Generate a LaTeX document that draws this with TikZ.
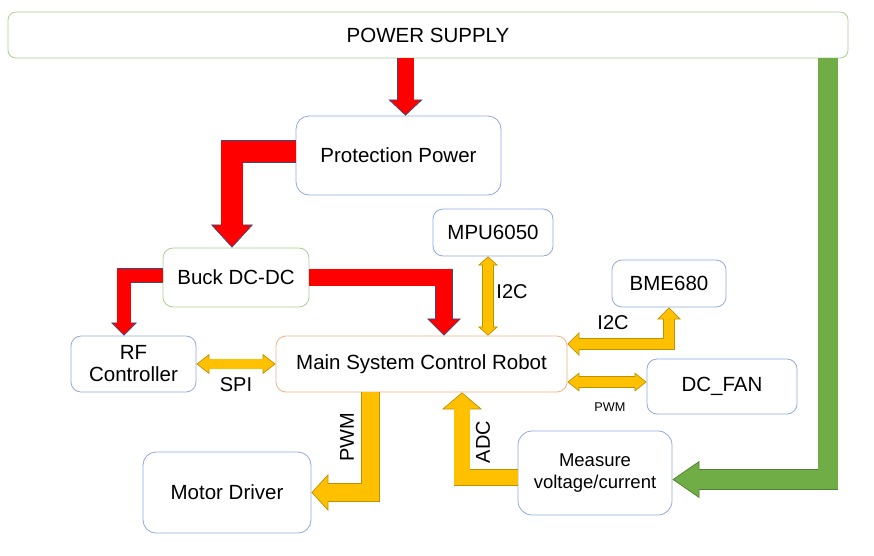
\documentclass[tikz,border=0pt]{standalone}
\usepackage{fontspec}
\setmainfont{Liberation Sans}
\usetikzlibrary{arrows.meta,calc}
\definecolor{bblue}{HTML}{8FAADC}
\definecolor{bgreen}{HTML}{A9D18E}
\definecolor{borange}{HTML}{F4B183}
\definecolor{redfill}{HTML}{FF0000}
\definecolor{rededge}{HTML}{3A4A7A}
\definecolor{yelfill}{HTML}{FFC000}
\definecolor{yeledge}{HTML}{BF9000}
\definecolor{grnfill}{HTML}{70AD47}
\definecolor{grnedge}{HTML}{507E32}
% single-headed fat arrow: #1 fill, #2 edge, #3 shaft width, #4 shaft+edge width, #5 head length, #6 head width, #7 fill shorten, #8 path
\newcommand{\fatone}[8]{%
  \draw[#2, line width=#4, line join=miter, -{Triangle[length=#5, width=#6, fill=#1, line width=0.7pt]}] #8;
  \draw[#1, line width=#3, line join=miter, shorten >=#7] #8;
}
\newcommand{\fattwo}[8]{%
  \draw[#2, line width=#4, line join=miter, {Triangle[length=#5, width=#6, fill=#1, line width=0.7pt]}-{Triangle[length=#5, width=#6, fill=#1, line width=0.7pt]}] #8;
  \draw[#1, line width=#3, line join=miter, shorten >=#7, shorten <=#7] #8;
}
\tikzset{
  box/.style={draw=bblue, line width=0.8pt, rounded corners=10pt, fill=white, align=center, inner sep=2pt,
    font=\fontsize{20.5}{23}\selectfont},
  lbl/.style={font=\fontsize{20}{23}\selectfont, inner sep=0pt},
}
\begin{document}
\begin{tikzpicture}[x=1pt,y=-1pt]
\useasboundingbox (0,0) rectangle (874,555);
% nodes
\node[box, draw=bgreen, rounded corners=8pt, minimum width=840pt, minimum height=46pt] (ps) at (428,35) {POWER SUPPLY};
\node[box, minimum width=205pt, minimum height=79pt, rounded corners=13pt] (prot) at (398.5,155.5) {Protection Power};
\node[box, minimum width=120pt, minimum height=47pt] (mpu) at (493,232.5) {MPU6050};
\node[box, draw=bgreen, minimum width=146pt, minimum height=59pt] (buck) at (236,277.5) {Buck DC-DC};
\node[box, minimum width=125pt, minimum height=56pt, font=\fontsize{20.5}{22}\selectfont] (rf) at (133.5,364) {RF\\Controller};
\node[box, draw=borange, minimum width=291pt, minimum height=56pt] (main) at (421.5,364) {Main System Control Robot};
\node[box, minimum width=114pt, minimum height=47pt] (bme) at (669,283.5) {BME680};
\node[box, minimum width=150pt, minimum height=55pt] (fan) at (722,386.5) {DC\_FAN};
\node[box, minimum width=168pt, minimum height=81pt, rounded corners=13pt] (motor) at (227,492.5) {Motor Driver};
\node[box, minimum width=154pt, minimum height=84pt, rounded corners=14pt, font=\fontsize{18.5}{22}\selectfont] (meas) at (595,473) {Measure\\voltage/current};
% helper coordinates
\coordinate (m1) at ($(mpu.south)+(-5,0)$);
\coordinate (f1) at ($(main.east)+(0,18)$);
% red power arrows
\fatone{redfill}{rededge}{16pt}{17.4pt}{16pt}{34pt}{14.5pt}{($(ps.south -| prot.north)+(7,0)$) -- ($(prot.north)+(7,0)$)}
\fatone{redfill}{rededge}{21.5pt}{22.9pt}{23pt}{42pt}{21.5pt}{($(prot.west)+(0,-4)$) -| ($(buck.north)+(-4,0)$)}
\fatone{redfill}{rededge}{13.5pt}{14.9pt}{13pt}{26pt}{11.5pt}{($(buck.west)+(0,-2)$) -| ($(rf.north)+(-9.5,0)$)}
\fatone{redfill}{rededge}{16.5pt}{17.9pt}{17pt}{34pt}{15.5pt}{(buck.east) -| ($(main.north)+(22.5,0)$)}
% yellow signal arrows
\fattwo{yelfill}{yeledge}{10pt}{11.4pt}{9pt}{20pt}{7.5pt}{(m1) -- (m1 |- main.north)}
\fattwo{yelfill}{yeledge}{10pt}{11.4pt}{12pt}{24pt}{10.5pt}{($(main.east)+(0,-20)$) -| (bme.south)}
\fattwo{yelfill}{yeledge}{10pt}{11.4pt}{12pt}{19pt}{10.5pt}{(f1) -- (f1 -| fan.west)}
\fattwo{yelfill}{yeledge}{9.5pt}{10.9pt}{13pt}{20pt}{11.5pt}{(rf.east) -- (main.west)}
\fatone{yelfill}{yeledge}{17.5pt}{18.9pt}{17pt}{37pt}{15.5pt}{($(main.south)+(-51,0)$) |- (motor.east)}
\fatone{yelfill}{yeledge}{15.5pt}{16.9pt}{17pt}{40pt}{15.5pt}{($(meas.west)+(0,4.5)$) -| ($(main.south)+(40.5,0)$)}
% green supply arrow
\fatone{grnfill}{grnedge}{19.5pt}{20.9pt}{27pt}{37pt}{25.5pt}{($(ps.south)+(400,0)$) |- ($(meas.east)+(0,6.5)$)}
% labels
\node[lbl] (l1) at (512,292) {I2C};
\node[lbl] (l2) at (613,323) {I2C};
\node[lbl, font=\fontsize{12.7}{14}\selectfont] (l3) at (610,407) {PWM};
\node[lbl] (l4) at (236,385) {SPI};
\node[lbl, rotate=90] (l5) at (347,437) {PWM};
\node[lbl, rotate=90] (l6) at (483,442) {ADC};
\end{tikzpicture}
\end{document}
